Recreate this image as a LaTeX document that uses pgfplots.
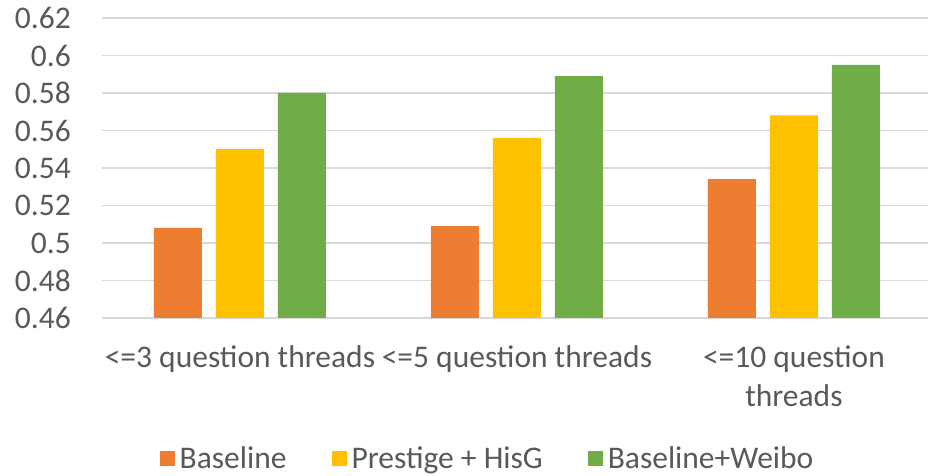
\documentclass[border=0pt]{standalone}
\usepackage{fontspec}
\setmainfont{Carlito}
\usepackage{pgfplots}
\pgfplotsset{compat=1.18}
\definecolor{cOrange}{HTML}{ED7D31}
\definecolor{cYellow}{HTML}{FFC000}
\definecolor{cGreen}{HTML}{70AD47}
\definecolor{cText}{HTML}{595959}
\definecolor{cGrid}{HTML}{D9D9D9}
\begin{document}
\begin{tikzpicture}[x=1pt,y=1pt]
\path[use as bounding box] (0,0) rectangle (928,476);
\begin{axis}[
  at={(102pt,158pt)}, anchor=south west,
  scale only axis, width=826pt, height=300pt,
  ybar=14pt, bar width=48pt,
  xmin=-0.498, xmax=2.484,
  ymin=0.46, ymax=0.62,
  ytick={0.46,0.48,0.50,0.52,0.54,0.56,0.58,0.60,0.62},
  yticklabels={0.46,0.48,0.5,0.52,0.54,0.56,0.58,0.6,0.62},
  xtick={0,1,2},
  xticklabels={{<=3 question threads},{<=5 question threads},{<=10 question\\threads}},
  /pgf/number format/assume math mode=true,
  axis line style={draw=none},
  major tick style={draw=none},
  ymajorgrids, grid style={draw=cGrid, line width=1.3pt},
  clip=false,
  ticklabel style={font=\fontsize{31.5}{39}\selectfont, text=cText},
  yticklabel style={anchor=east, inner sep=0pt, xshift=-31pt},
  xticklabel style={anchor=north, inner sep=0pt, yshift=-23pt, align=center},
  legend style={at={(0.4685,-0.4667)}, anchor=center, draw=none, fill=none,
    legend columns=3, font=\fontsize{31.5}{39}\selectfont, text=cText,
    /tikz/every even column/.append style={column sep=40pt},
    nodes={inner sep=5pt}},
  legend image code/.code={\fill[#1] (0pt,-7.5pt) rectangle (15pt,7.5pt);},
]
\addplot[fill=cOrange, draw=none] coordinates {(0,0.508) (1,0.509) (2,0.534)};
\addplot[fill=cYellow, draw=none] coordinates {(0,0.550) (1,0.556) (2,0.568)};
\addplot[fill=cGreen, draw=none] coordinates {(0,0.580) (1,0.589) (2,0.595)};
\legend{Baseline, Prestige + HisG, Baseline+Weibo}
\end{axis}
\end{tikzpicture}
\end{document}
